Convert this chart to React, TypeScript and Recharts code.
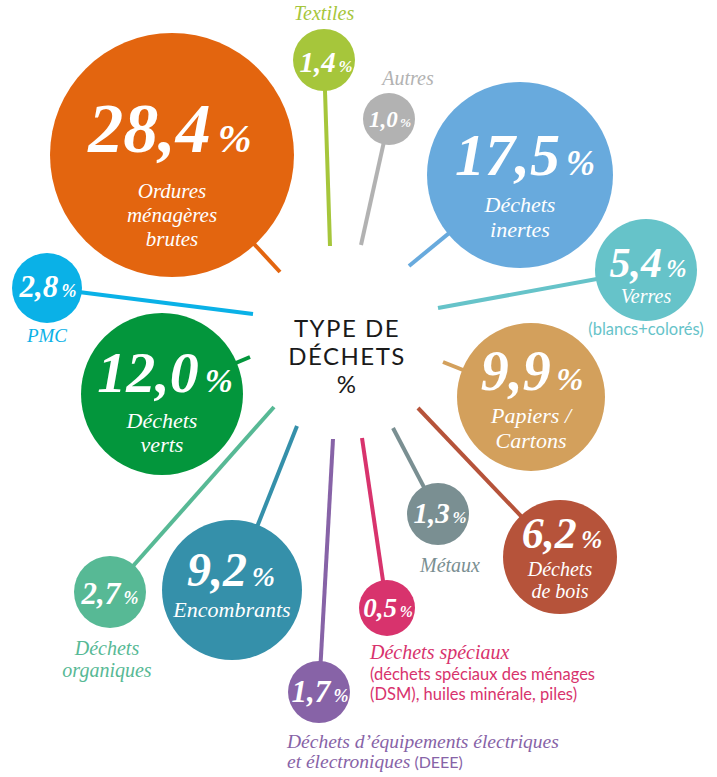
import React from 'react';
import { ScatterChart, Scatter, XAxis, YAxis } from 'recharts';

// ---- data ----
const categories = [
  'Ordures ménagères brutes', 'Textiles', 'Autres', 'Déchets inertes', 'Verres', 'PMC',
  'Déchets verts', 'Papiers / Cartons', 'Déchets organiques', 'Encombrants', 'DEEE',
  'Déchets spéciaux', 'Métaux', 'Déchets de bois',
];
const values = [28.4, 1.4, 1.0, 17.5, 5.4, 2.8, 12.0, 9.9, 2.7, 9.2, 1.7, 0.5, 1.3, 6.2];
const colors = [
  '#E3650F', '#A6C63B', '#B2B2B2', '#68AADD', '#66C3C9', '#0AB1E7', '#03963C',
  '#D3A05C', '#57B995', '#3590AA', '#8763A7', '#D8336D', '#7A8F92', '#B6533A',
];
const title = ['TYPE DE', 'DÉCHETS', '%'];

// ---- layout (bubble centre, radius, connector hub end, text placement) ----
type Ext = { text: string; dx: number; dy: number; anchor?: string; sans?: boolean; size?: number; extra?: string };
type Lay = {
  x: number; y: number; r: number; hx: number; hy: number;
  vdx: number; vdy: number; vs: number;
  inner: string[]; idy: number[]; is: number;
  ext: Ext[];
};
const layout: Lay[] = [
  { x: 172, y: 155, r: 122, hx: 280, hy: 272, vdx: -2, vdy: -3, vs: 70, inner: ['Ordures', 'ménagères', 'brutes'], idy: [43, 67, 91], is: 21, ext: [] },
  { x: 324, y: 60, r: 31, hx: 330, hy: 246, vdx: 2, vdy: 12, vs: 29, inner: [], idy: [], is: 0, ext: [{ text: 'Textiles', dx: 0, dy: -40 }] },
  { x: 389, y: 119, r: 26, hx: 361, hy: 245, vdx: 1, vdy: 8, vs: 23, inner: [], idy: [], is: 0, ext: [{ text: 'Autres', dx: 19, dy: -34 }] },
  { x: 520, y: 175, r: 93, hx: 409, hy: 266, vdx: 5, vdy: 0, vs: 60, inner: ['Déchets', 'inertes'], idy: [37, 62], is: 22, ext: [] },
  { x: 646, y: 270, r: 51, hx: 438, hy: 308, vdx: 2, vdy: 7, vs: 42, inner: ['Verres'], idy: [33], is: 20, ext: [{ text: '(blancs+colorés)', dx: 0, dy: 65, sans: true, size: 16.5 }] },
  { x: 47, y: 288, r: 35, hx: 253, hy: 314, vdx: 1, vdy: 9, vs: 31, inner: [], idy: [], is: 0, ext: [{ text: 'PMC', dx: 0, dy: 54, size: 19 }] },
  { x: 162, y: 394, r: 81, hx: 250, hy: 357, vdx: 3, vdy: -2, vs: 58, inner: ['Déchets', 'verts'], idy: [34, 58], is: 22, ext: [] },
  { x: 531, y: 397, r: 74, hx: 443, hy: 362, vdx: 1, vdy: -7, vs: 56, inner: ['Papiers /', 'Cartons'], idy: [26, 51], is: 22, ext: [] },
  { x: 110, y: 592, r: 36, hx: 274, hy: 407, vdx: 0, vdy: 12, vs: 31, inner: [], idy: [], is: 0, ext: [{ text: 'Déchets', dx: -3, dy: 63 }, { text: 'organiques', dx: -3, dy: 85 }] },
  { x: 232, y: 590, r: 70, hx: 297, hy: 426, vdx: -1, vdy: -4, vs: 48, inner: ['Encombrants'], idy: [27], is: 22, ext: [] },
  { x: 319, y: 692, r: 31, hx: 333, hy: 439, vdx: 1, vdy: 10, vs: 31, inner: [], idy: [], is: 0, ext: [
    { text: 'Déchets d’équipements électriques', dx: -32, dy: 56, anchor: 'start', size: 19.5 },
    { text: 'et électroniques', dx: -32, dy: 76, anchor: 'start', size: 19.5, extra: ' (DEEE)' },
  ] },
  { x: 387, y: 608, r: 28, hx: 362, hy: 438, vdx: 1, vdy: 9, vs: 27, inner: [], idy: [], is: 0, ext: [
    { text: 'Déchets spéciaux', dx: -17, dy: 51, anchor: 'start', size: 20 },
    { text: '(déchets spéciaux des ménages', dx: -17, dy: 72, anchor: 'start', sans: true, size: 16.5 },
    { text: '(DSM), huiles minérale, piles)', dx: -17, dy: 92, anchor: 'start', sans: true, size: 16.5 },
  ] },
  { x: 438, y: 514, r: 31, hx: 393, hy: 428, vdx: 2, vdy: 9, vs: 29, inner: [], idy: [], is: 0, ext: [{ text: 'Métaux', dx: 12, dy: 58 }] },
  { x: 560, y: 557, r: 57, hx: 418, hy: 408, vdx: 2, vdy: -9, vs: 44, inner: ['Déchets', 'de bois'], idy: [19, 41], is: 20, ext: [] },
];
const titlePos = { x: 347, y: 337, step: 28 };

const SERIF = "'Liberation Serif', 'DejaVu Serif', serif";
const SANS = "Lato, 'Open Sans', sans-serif";

const fmt = (v: number) => v.toFixed(1).replace('.', ',');

const bubbles = values.map((v, i) => ({ x: layout[i].x, y: layout[i].y, idx: i, value: v, name: categories[i] }));

const Bubble = (props: any) => {
  const { cx, cy, payload } = props;
  const i = payload.idx;
  const L = layout[i];
  const c = colors[i];
  return (
    <g>
      <circle cx={cx} cy={cy} r={L.r} fill={c} />
      <text x={cx + L.vdx} y={cy + L.vdy} textAnchor="middle" fill="#fff" fontFamily={SERIF} fontStyle="italic" fontWeight="bold">
        <tspan fontSize={L.vs}>{fmt(values[i])}</tspan>
        <tspan fontSize={L.vs * 0.58} dx={L.vs * 0.1}>%</tspan>
      </text>
      {L.inner.map((t, k) => (
        <text key={k} x={cx} y={cy + L.idy[k]} textAnchor="middle" fill="#fff" fontFamily={SERIF} fontStyle="italic" fontSize={L.is}>{t}</text>
      ))}
      {L.ext.map((e, k) => (
        <text key={'e' + k} x={cx + e.dx} y={cy + e.dy} textAnchor={e.anchor || 'middle'} fill={c}
          fontFamily={e.sans ? SANS : SERIF} fontStyle={e.sans ? 'normal' : 'italic'} fontSize={e.size || 20}>
          {e.text}
          {e.extra ? <tspan fontFamily={SANS} fontStyle="normal" fontSize={16}>{e.extra}</tspan> : null}
        </text>
      ))}
    </g>
  );
};

const Nothing = () => <g />;

const TitleShape = (props: any) => {
  const { cx, cy } = props;
  return (
    <g>
      {title.map((t, k) => (
        <text key={k} x={cx} y={cy + k * titlePos.step} textAnchor="middle" fill="#1a1a1a" fontFamily={SANS}
          fontSize={24} fontWeight={400} letterSpacing={1.5}>{t}</text>
      ))}
    </g>
  );
};

export default function App() {
  return (
    <div style={{ position: 'absolute', left: 0, top: 0, width: 717, height: 777, background: '#fff' }}>
      <ScatterChart width={717} height={777} margin={{ top: 0, right: 0, bottom: 0, left: 0 }}>
        <XAxis type="number" dataKey="x" domain={[0, 717]} hide />
        <YAxis type="number" dataKey="y" domain={[0, 777]} reversed hide />
        {layout.map((L, i) => (
          <Scatter key={'c' + i} data={[{ x: L.x, y: L.y }, { x: L.hx, y: L.hy }]} fill={colors[i]}
            line={{ stroke: colors[i], strokeWidth: 4 }} lineType="joint" shape={Nothing} isAnimationActive={false} />
        ))}
        <Scatter data={bubbles} shape={Bubble} isAnimationActive={false} />
        <Scatter data={[{ x: titlePos.x, y: titlePos.y }]} shape={TitleShape} isAnimationActive={false} />
      </ScatterChart>
    </div>
  );
}
